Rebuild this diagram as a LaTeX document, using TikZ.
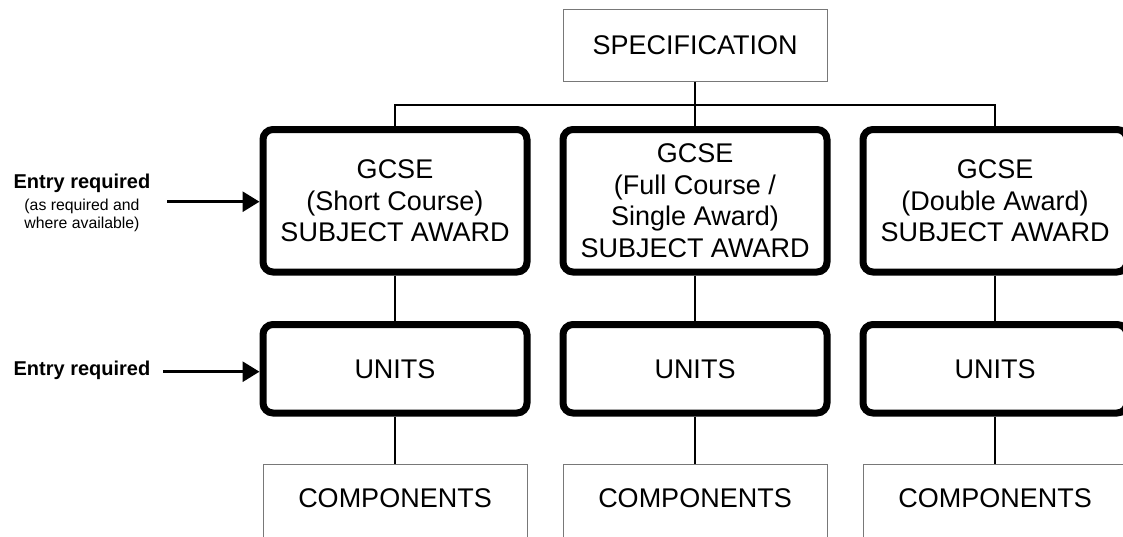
\documentclass[tikz,border=0pt]{standalone}
\usepackage{fontspec}
\setmainfont{Liberation Sans}
\usetikzlibrary{arrows.meta}
\definecolor{linegray}{RGB}{120,120,120}
\tikzset{
  bigbox/.style={draw=black, line width=7pt, rounded corners=10pt, minimum width=264pt, inner sep=0pt, align=center, font=\fontsize{27}{31.5}\selectfont},
  plainbox/.style={draw=linegray, line width=1pt, minimum width=264pt, inner sep=0pt, align=center, font=\fontsize{27}{31.5}\selectfont},
  conn/.style={draw=black, line width=2.7pt},
  arr/.style={draw=black, line width=3pt, -{Triangle[length=17pt,width=20pt]}},
  entrylbl/.style={font=\bfseries\fontsize{20}{24}\selectfont, anchor=base, inner sep=0pt},
  notelbl/.style={font=\fontsize{15.8}{18}\selectfont, align=center, anchor=base, inner sep=0pt}
}
\begin{document}
\begin{tikzpicture}[x=1pt,y=-1pt]
\useasboundingbox (0,0) rectangle (1123,536);
\clip (0,0) rectangle (1123,536);
\fill[white] (0,0) rectangle (1123,536);

% top
\node[plainbox, minimum height=72pt] (spec) at (695,45) {SPECIFICATION};

% row 1
\node[bigbox, minimum height=142.5pt] (aw1) at (395,200.75) {GCSE\\(Short Course)\\SUBJECT AWARD};
\node[bigbox, minimum height=142.5pt] (aw2) at (695,200.75) {GCSE\\(Full Course /\\Single Award)\\SUBJECT AWARD};
\node[bigbox, minimum height=142.5pt] (aw3) at (995,200.75) {GCSE\\(Double Award)\\SUBJECT AWARD};

% row 2
\node[bigbox, minimum height=88.5pt] (u1) at (395,368.75) {UNITS};
\node[bigbox, minimum height=88.5pt] (u2) at (695,368.75) {UNITS};
\node[bigbox, minimum height=88.5pt] (u3) at (995,368.75) {UNITS};

% row 3 (cut off at the bottom)
\node[plainbox, anchor=north, text height=42.7pt, text depth=60pt] (c1) at (395,464) {COMPONENTS};
\node[plainbox, anchor=north, text height=42.7pt, text depth=60pt] (c2) at (695,464) {COMPONENTS};
\node[plainbox, anchor=north, text height=42.7pt, text depth=60pt] (c3) at (995,464) {COMPONENTS};

% connectors
\coordinate (bus) at (695,105);
\draw[conn] (spec.south) -- (aw2.north);
\draw[conn] (aw1.north) |- (bus) -| (aw3.north);
\draw[conn] (aw1.south) -- (u1.north);
\draw[conn] (aw2.south) -- (u2.north);
\draw[conn] (aw3.south) -- (u3.north);
\draw[conn] (u1.south) -- (c1.north);
\draw[conn] (u2.south) -- (c2.north);
\draw[conn] (u3.south) -- (c3.north);

% left labels
\node[entrylbl] (e1) at (82,188) {Entry required};
\node[notelbl] (n1) at (82,228) {(as required and\\where available)};
\node[entrylbl] (e2) at (82,375) {Entry required};

\coordinate (a1) at (167,201.7);
\coordinate (a2) at (163,371.7);
\draw[arr] (a1) -- (a1 -| aw1.west);
\draw[arr] (a2) -- (a2 -| u1.west);
\end{tikzpicture}
\end{document}
